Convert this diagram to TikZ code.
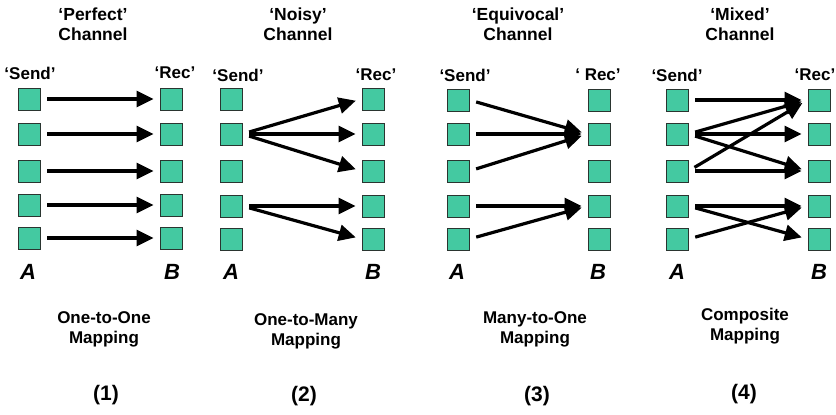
\documentclass[tikz,border=0pt]{standalone}
\usepackage{fontspec}
\setmainfont{Liberation Sans}
\usetikzlibrary{arrows.meta}
\definecolor{boxfill}{HTML}{44C9A1}
\definecolor{boxline}{HTML}{2A3530}
\tikzset{
  sq/.style={draw=boxline, line width=0.9pt, fill=boxfill, minimum size=22pt, inner sep=0pt},
  arr/.style={line width=3.2pt, -{Triangle[length=17pt,width=16pt]}, shorten <=7pt, shorten >=6pt},
  ttl/.style={align=center, font=\fontsize{17.5}{20}\selectfont\bfseries},
  lbl/.style={font=\fontsize{17}{20}\selectfont\bfseries},
  ab/.style={font=\fontsize{22}{24}\selectfont\bfseries\itshape},
  map/.style={align=center, font=\fontsize{17}{20}\selectfont\bfseries},
  num/.style={font=\fontsize{21}{24}\selectfont\bfseries},
}
\begin{document}
\begin{tikzpicture}[x=1pt,y=-1pt]
\useasboundingbox (0,0) rectangle (836,415);
% ---------- Panel 1 ----------
\node[ttl] (t1) at (93,24) {‘Perfect’\\Channel};
\node[lbl] (ls1) at (30,73) {‘Send’};
\node[lbl] (lr1) at (175,73) {‘Rec’};
\foreach \i/\y in {1/99,2/134,3/171,4/205,5/238}{
  \node[sq] (p1s\i) at (29,\y) {};
  \node[sq] (p1r\i) at (171,\y) {};
}
\foreach \i in {1,...,5}{ \draw[arr] (p1s\i.east) -- (p1r\i.west); }
\node[ab] (a1) at (28,272) {A};
\node[ab] (b1) at (172,272) {B};
\node[map] (m1) at (104,329) {One-to-One\\Mapping};
\node[num] (n1) at (106,395) {(1)};
% ---------- Panel 2 ----------
\node[ttl] (t2) at (298,24) {‘Noisy’\\Channel};
\node[lbl] (ls2) at (238,75) {‘Send’};
\node[lbl] (lr2) at (376,75) {‘Rec’};
\foreach \i/\y in {1/99,2/134,3/171,4/206,5/239}{
  \node[sq] (p2s\i) at (231,\y) {};
  \node[sq] (p2r\i) at (373,\y) {};
}
\draw[arr] (p2s2.east) -- (p2r1.west);
\draw[arr] (p2s2.east) -- (p2r2.west);
\draw[arr] (p2s2.east) -- (p2r3.west);
\draw[arr] (p2s4.east) -- (p2r4.west);
\draw[arr] (p2s4.east) -- (p2r5.west);
\node[ab] (a2) at (231,272) {A};
\node[ab] (b2) at (373,272) {B};
\node[map] (m2) at (306,331) {One-to-Many\\Mapping};
\node[num] (n2) at (304,396) {(2)};
% ---------- Panel 3 ----------
\node[ttl] (t3) at (518,24) {‘Equivocal’\\Channel};
\node[lbl] (ls3) at (465,75) {‘Send’};
\node[lbl] (lr3) at (598,75) {‘ Rec’};
\foreach \i/\y in {1/100,2/134,3/171,4/206,5/239}{
  \node[sq] (p3s\i) at (458,\y) {};
  \node[sq] (p3r\i) at (599,\y) {};
}
\draw[arr] (p3s1.east) -- (p3r2.west);
\draw[arr] (p3s2.east) -- (p3r2.west);
\draw[arr] (p3s3.east) -- (p3r2.west);
\draw[arr] (p3s4.east) -- (p3r4.west);
\draw[arr] (p3s5.east) -- (p3r4.west);
\node[ab] (a3) at (457,272) {A};
\node[ab] (b3) at (598,272) {B};
\node[map] (m3) at (535,329) {Many-to-One\\Mapping};
\node[num] (n3) at (537,396) {(3)};
% ---------- Panel 4 ----------
\node[ttl] (t4) at (740,24) {‘Mixed’\\Channel};
\node[lbl] (ls4) at (677,75) {‘Send’};
\node[lbl] (lr4) at (815,75) {‘Rec’};
\foreach \i/\y in {1/100,2/134,3/171,4/206,5/239}{
  \node[sq] (p4s\i) at (677,\y) {};
  \node[sq] (p4r\i) at (819,\y) {};
}
\draw[arr] (p4s1.east) -- (p4r1.west);
\draw[arr] (p4s2.east) -- (p4r1.west);
\draw[arr] (p4s2.east) -- (p4r2.west);
\draw[arr] (p4s2.east) -- (p4r3.west);
\draw[arr] (p4s3.east) -- (p4r1.west);
\draw[arr] (p4s3.east) -- (p4r3.west);
\draw[arr] (p4s4.east) -- (p4r4.west);
\draw[arr] (p4s4.east) -- (p4r5.west);
\draw[arr] (p4s5.east) -- (p4r4.west);
\node[ab] (a4) at (677,272) {A};
\node[ab] (b4) at (819,272) {B};
\node[map] (m4) at (745,326) {Composite\\Mapping};
\node[num] (n4) at (744,394) {(4)};
\end{tikzpicture}
\end{document}
